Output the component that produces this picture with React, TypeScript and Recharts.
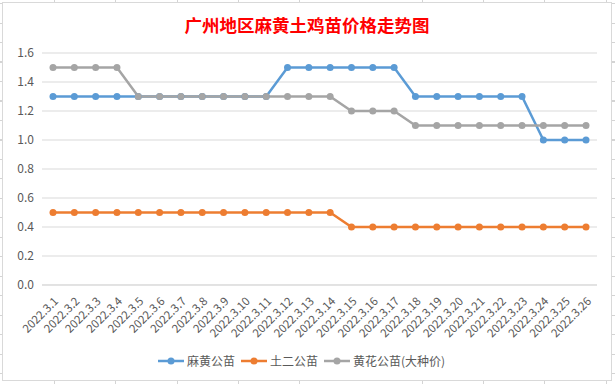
import { LineChart, Line, XAxis, YAxis, CartesianGrid, Legend } from "recharts"

const dates = [
  "2022.3.1", "2022.3.2", "2022.3.3", "2022.3.4", "2022.3.5", "2022.3.6", "2022.3.7",
  "2022.3.8", "2022.3.9", "2022.3.10", "2022.3.11", "2022.3.12", "2022.3.13", "2022.3.14",
  "2022.3.15", "2022.3.16", "2022.3.17", "2022.3.18", "2022.3.19", "2022.3.20", "2022.3.21",
  "2022.3.22", "2022.3.23", "2022.3.24", "2022.3.25", "2022.3.26",
]

const mahuang = [
  1.3, 1.3, 1.3, 1.3, 1.3, 1.3, 1.3, 1.3, 1.3, 1.3, 1.3, 1.5, 1.5, 1.5,
  1.5, 1.5, 1.5, 1.3, 1.3, 1.3, 1.3, 1.3, 1.3, 1.0, 1.0, 1.0,
]
const tuer = [
  0.5, 0.5, 0.5, 0.5, 0.5, 0.5, 0.5, 0.5, 0.5, 0.5, 0.5, 0.5, 0.5, 0.5,
  0.4, 0.4, 0.4, 0.4, 0.4, 0.4, 0.4, 0.4, 0.4, 0.4, 0.4, 0.4,
]
const huanghua = [
  1.5, 1.5, 1.5, 1.5, 1.3, 1.3, 1.3, 1.3, 1.3, 1.3, 1.3, 1.3, 1.3, 1.3,
  1.2, 1.2, 1.2, 1.1, 1.1, 1.1, 1.1, 1.1, 1.1, 1.1, 1.1, 1.1,
]
const yTicks = [0, 0.2, 0.4, 0.6, 0.8, 1.0, 1.2, 1.4, 1.6]
const seriesNames = ["麻黄公苗", "土二公苗", "黄花公苗(大种价)"]

const data = dates.map((d, i) => ({
  date: d,
  mahuang: mahuang[i],
  tuer: tuer[i],
  huanghua: huanghua[i],
}))

const FONT = "'Noto Sans CJK SC', 'Noto Sans', sans-serif"

function DateTick({ x, y, payload }: any) {
  return (
    <text
      transform={`translate(${x + 6},${y + 9}) rotate(-45)`}
      textAnchor="end"
      fill="#595959"
      fontSize={11.5}
      fontFamily={FONT}
    >
      {payload.value}
    </text>
  )
}

function LegendContent({ payload }: any) {
  const items = [...(payload || [])].sort(
    (a: any, b: any) => seriesNames.indexOf(a.value) - seriesNames.indexOf(b.value)
  )
  return (
    <div style={{ display: "flex", justifyContent: "center", gap: 6, fontFamily: FONT, fontSize: 12, color: "#595959" }}>
      {items.map((p: any) => (
        <span key={p.value} style={{ display: "flex", alignItems: "center" }}>
          <svg width={26} height={10} style={{ marginRight: 3 }}>
            <line x1={0} y1={5} x2={26} y2={5} stroke={p.color} strokeWidth={2.5} />
            <circle cx={13} cy={5} r={3.5} fill={p.color} />
          </svg>
          {p.value}
        </span>
      ))}
    </div>
  )
}

export default function App() {
  const sheetBg =
    "repeating-linear-gradient(to right, transparent 0, transparent 54px, #D4D4D4 54px, #D4D4D4 55px, transparent 55px, transparent 61.3px)," +
    "repeating-linear-gradient(to bottom, transparent 0, transparent 3px, #D4D4D4 3px, #D4D4D4 4px, transparent 4px, transparent 19.5px)"
  return (
    <div style={{ position: "fixed", left: 0, top: 0, width: 615, height: 384, background: "#fff" }}>
      <div style={{ position: "absolute", inset: 0, backgroundImage: sheetBg }} />
      <div
        style={{
          position: "absolute",
          left: 2,
          top: 2,
          width: 608,
          height: 377,
          border: "1px solid #D9D9D9",
          background: "#fff",
        }}
      >
        <div
          style={{
            position: "absolute",
            top: 9,
            width: "100%",
            textAlign: "center",
            color: "#FF0000",
            fontFamily: FONT,
            fontWeight: 700,
            fontSize: 17.5,
          }}
        >
          广州地区麻黄土鸡苗价格走势图
        </div>
        <LineChart width={608} height={377} data={data} margin={{ top: 50, right: 14, left: 3, bottom: 11 }}>
          <CartesianGrid vertical={false} stroke="#D9D9D9" />
          <XAxis
            dataKey="date"
            interval={0}
            tick={<DateTick />}
            tickLine={false}
            axisLine={{ stroke: "#D9D9D9" }}
            padding={{ left: 11, right: 11 }}
            height={67}
          />
          <YAxis
            domain={[0, 1.6]}
            ticks={yTicks}
            tickFormatter={(v: number) => v.toFixed(1)}
            tick={{ fontSize: 12, fill: "#595959", fontFamily: FONT }}
            tickLine={false}
            axisLine={false}
            width={36}
          />
          <Legend verticalAlign="bottom" content={<LegendContent />} />
          <Line dataKey="mahuang" name={seriesNames[0]} stroke="#5B9BD5" strokeWidth={2.5} dot={{ r: 3.5, fill: "#5B9BD5", strokeWidth: 0 }} isAnimationActive={false} />
          <Line dataKey="tuer" name={seriesNames[1]} stroke="#ED7D31" strokeWidth={2.5} dot={{ r: 3.5, fill: "#ED7D31", strokeWidth: 0 }} isAnimationActive={false} />
          <Line dataKey="huanghua" name={seriesNames[2]} stroke="#A5A5A5" strokeWidth={2.5} dot={{ r: 3.5, fill: "#A5A5A5", strokeWidth: 0 }} isAnimationActive={false} />
        </LineChart>
      </div>
    </div>
  )
}
